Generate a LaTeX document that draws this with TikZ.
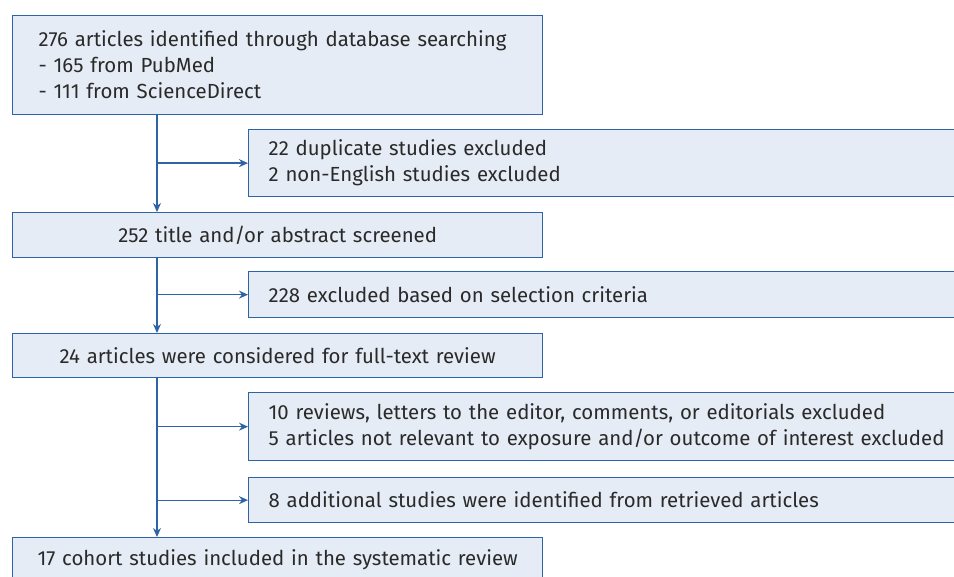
\documentclass[tikz,border=0pt]{standalone}
\usepackage{fontspec}
\setmainfont{Fira Sans}
\usetikzlibrary{arrows.meta}
\definecolor{boxline}{HTML}{2E63A5}
\definecolor{boxfill}{HTML}{E5ECF5}
\definecolor{ink}{HTML}{2A2A2A}
\newcommand{\fs}{\fontsize{20.4}{26}\selectfont}

\begin{document}
\begin{tikzpicture}[x=1pt,y=-1pt,
  box/.style={draw=boxline,fill=boxfill,line width=1.3pt,anchor=north west,
    inner ysep=0pt,text=ink,font=\fs},
  mainbox/.style={box,inner xsep=10pt,text width=510pt,align=center,minimum width=530pt},
  listbox/.style={box,inner xsep=26pt,text width=478pt,align=left,minimum width=530pt},
  sidebox/.style={box,inner xsep=20pt,text width=720pt,align=left,minimum width=760pt},
  flow/.style={draw=boxline,line width=1.3pt,-{Stealth[length=9pt,width=8pt]}}]
  \useasboundingbox (0,0) rectangle (954,577);
  \clip (0,0) rectangle (954,577);

  % main column
  \node[listbox,minimum height=99pt] (search) at (12,15)
    {276 articles identified through database searching\\
     - 165 from PubMed\\
     - 111 from ScienceDirect};
  \node[mainbox,minimum height=45pt] (screen) at (12,212)
    {252 title and/or abstract screened};
  \node[mainbox,minimum height=44pt] (fulltext) at (12,333)
    {24 articles were considered for full-text review};
  \node[mainbox,minimum height=45pt] (included) at (12,537)
    {17 cohort studies included in the systematic review};

  % side boxes
  \node[sidebox,minimum height=67pt] (dupes) at (248,129)
    {22 duplicate studies excluded\\
     2 non-English studies excluded};
  \node[sidebox,minimum height=46pt] (selection) at (248,271)
    {228 excluded based on selection criteria};
  \node[sidebox,minimum height=68pt] (reviews) at (248,392)
    {10 reviews, letters to the editor, comments, or editorials excluded\\
     5 articles not relevant to exposure and/or outcome of interest excluded};
  \node[sidebox,minimum height=45pt] (extra) at (248,477)
    {8 additional studies were identified from retrieved articles};

  % connectors
  \coordinate (trunk) at (157,0);
  \draw[flow] (search.south -| trunk) -- (screen.north -| trunk);
  \draw[flow] (trunk |- dupes.west) -- (dupes.west);
  \draw[flow] (screen.south -| trunk) -- (fulltext.north -| trunk);
  \draw[flow] (trunk |- selection.west) -- (selection.west);
  \draw[flow] (fulltext.south -| trunk) -- (included.north -| trunk);
  \draw[flow] (trunk |- reviews.west) -- (reviews.west);
  \draw[flow] (trunk |- extra.west) -- (extra.west);
\end{tikzpicture}
\end{document}
